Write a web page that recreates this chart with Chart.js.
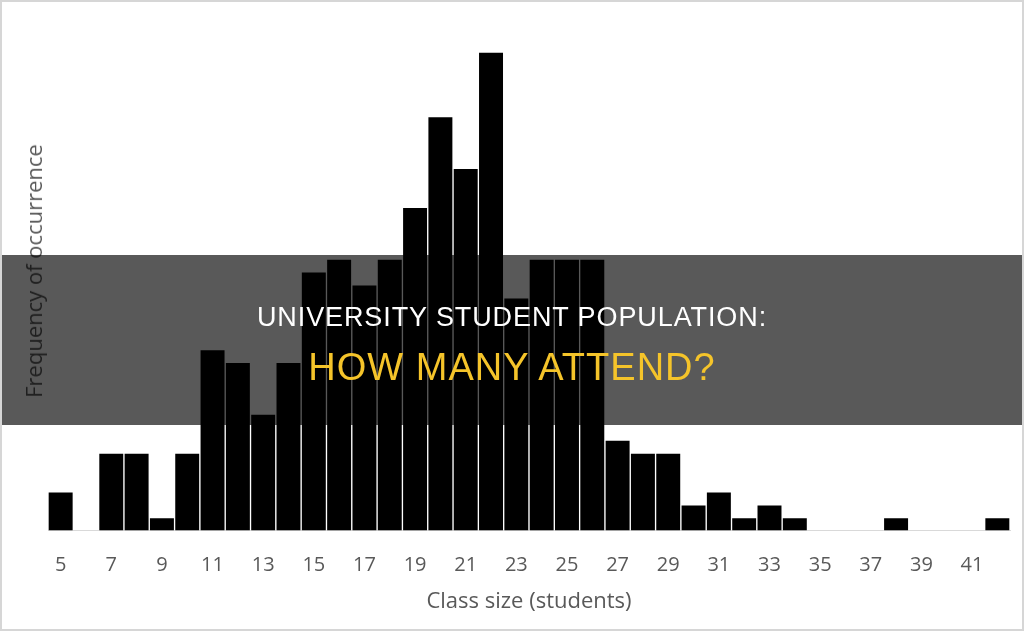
<!DOCTYPE html>
<html>
<head>
<meta charset="utf-8">
<script src="https://cdn.jsdelivr.net/npm/chart.js@4"></script>
<style>
  html, body { margin: 0; padding: 0; background: #fff; }
  #wrap { position: relative; width: 1024px; height: 631px; overflow: hidden; }
  #frame { position: absolute; left: 0; top: 0; width: 1020px; height: 627px; border: 2px solid #d6d6d6; pointer-events: none; }
  canvas { position: absolute; left: 0; top: 0; }
  #ytitle { position: absolute; left: 33px; top: 271px; transform: translate(-50%, -50%) rotate(-90deg); font-family: "Open Sans", sans-serif; font-size: 22px; color: #595959; white-space: nowrap; line-height: 1; }
  #band { position: absolute; left: 0; top: 255px; width: 1024px; height: 170px; background: rgba(0,0,0,0.65); }
  .t { position: absolute; left: 0; width: 1024px; text-align: center; font-family: "Liberation Sans", Arial, sans-serif; white-space: nowrap; line-height: 1; }
  #t1 { top: 304px; font-size: 27px; color: #ffffff; letter-spacing: 0.9px; }
  #t2 { top: 348px; font-size: 38px; color: #f5c42a; letter-spacing: 1px; }
</style>
</head>
<body>
<div id="wrap">
  <canvas id="c" width="1024" height="631"></canvas>
  <div id="ytitle">Frequency of occurrence</div>
  <div id="band"></div>
  <div class="t" id="t1">UNIVERSITY STUDENT POPULATION:</div>
  <div class="t" id="t2">HOW MANY ATTEND?</div>
  <div id="frame"></div>
</div>
<script>
const classSizes = [5,6,7,8,9,10,11,12,13,14,15,16,17,18,19,20,21,22,23,24,25,26,27,28,29,30,31,32,33,34,35,36,37,38,39,40,41,42];
const frequencies = [3,0,6,6,1,6,14,13,9,13,20,21,19,21,25,32,28,37,18,21,21,21,7,6,6,2,3,1,2,1,0,0,0,1,0,0,0,1];
const tickLabels = ['5','7','9','11','13','15','17','19','21','23','25','27','29','31','33','35','37','39','41'];
const xTitle = 'Class size (students)';

const ctx = document.getElementById('c').getContext('2d');
new Chart(ctx, {
  type: 'bar',
  data: {
    labels: classSizes.map(String),
    datasets: [{
      data: frequencies,
      backgroundColor: '#000000',
      borderColor: '#ffffff',
      borderWidth: 1,
      barPercentage: 1,
      categoryPercentage: 1
    }]
  },
  options: {
    responsive: false,
    animation: false,
    devicePixelRatio: 1,
    layout: { padding: { left: 48, right: 14, top: 52, bottom: 16 } },
    plugins: { legend: { display: false }, tooltip: { enabled: false } },
    scales: {
      x: {
        grid: { display: false, drawTicks: false },
        border: { display: true, color: '#d9d9d9', width: 1 },
        ticks: {
          autoSkip: false,
          maxRotation: 0,
          padding: 23,
          color: '#595959',
          font: { family: '"Open Sans", sans-serif', size: 20 },
          callback: function(v) {
            const lab = this.getLabelForValue(v);
            return tickLabels.includes(lab) ? lab : '';
          }
        },
        title: {
          display: true,
          text: xTitle,
          color: '#595959',
          font: { family: '"Open Sans", sans-serif', size: 22 },
          padding: { top: -12, bottom: 0 }
        }
      },
      y: {
        display: false,
        min: 0,
        max: 37
      }
    }
  }
});
</script>
</body>
</html>
